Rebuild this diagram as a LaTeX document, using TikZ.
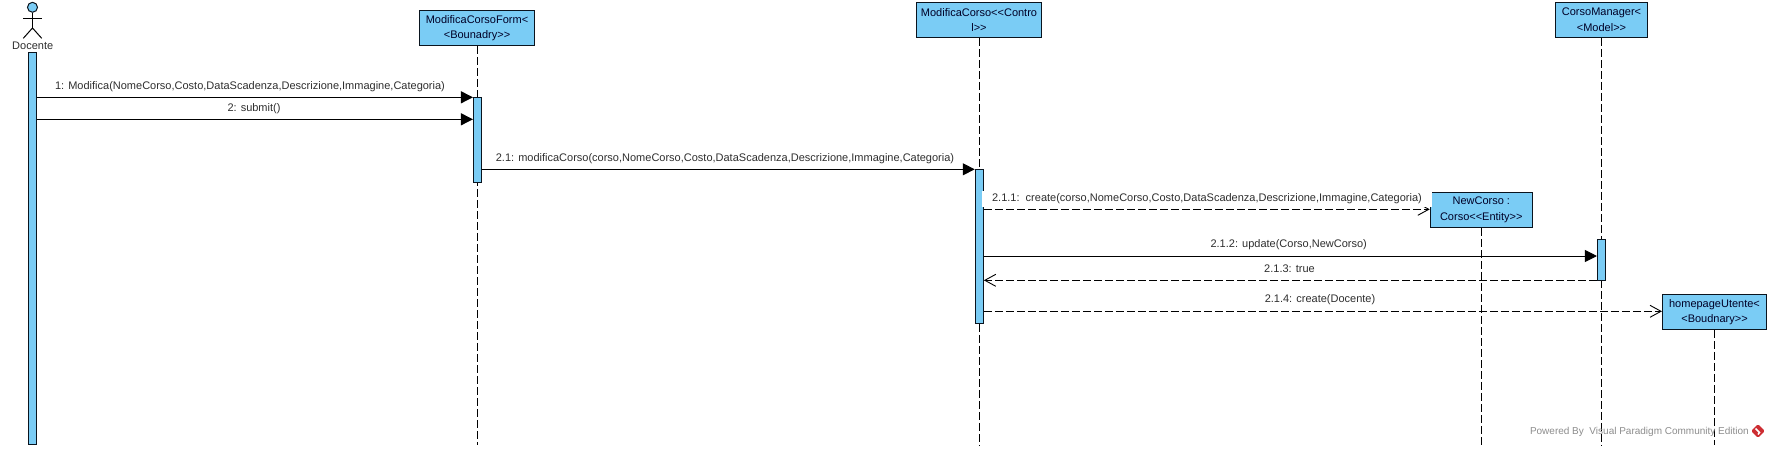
\documentclass[tikz,border=0pt]{standalone}
\usepackage{fontspec}
\setmainfont{Liberation Sans}
\usetikzlibrary{arrows.meta,shapes.geometric}
\definecolor{vpblue}{RGB}{122,204,245}
\definecolor{vpline}{RGB}{10,20,30}
\definecolor{vplogo}{RGB}{205,45,50}
\tikzset{
  x=1pt,y=1pt,
  objbox/.style={draw=vpline,line width=1.1pt,fill=vpblue,inner sep=0pt,align=center,
    font=\fontsize{11}{15.2}\selectfont,text=black!85!blue},
  actbar/.style={draw=vpline,line width=1.1pt,fill=vpblue,inner sep=0pt},
  lifeline/.style={draw=black,line width=1pt,dash pattern=on 8pt off 3pt},
  callmsg/.style={draw=black,line width=1pt,-{Triangle[length=12pt,width=12pt]},shorten >=0pt},
  createmsg/.style={draw=black,line width=1pt,dash pattern=on 8pt off 3pt,-{Straight Barb[length=11pt,width=12pt,line width=0.9pt]}},
  msglabel/.style={inner sep=0pt,font=\fontsize{11}{12}\selectfont,text=black!82},
  actorline/.style={draw=black,line width=1pt},
}
\newcommand{\objnode}[6]{\node[objbox,minimum width=#4pt,minimum height=#5pt] (#1) at (#2,#3) {#6};}
\newcommand{\barnode}[4]{\node[actbar,minimum width=8pt,minimum height=#4pt-#3pt,anchor=north] (#1) at (#2,-#3) {};}
\begin{document}
\begin{tikzpicture}
\useasboundingbox (0,0) rectangle (1771,-448);
% coordinates of message levels
\coordinate (bot) at (0,-445);
\coordinate (y1) at (0,-97.3);
\coordinate (y2) at (0,-119.3);
\coordinate (y3) at (0,-169.3);
\coordinate (y4) at (0,-209.3);
\coordinate (y5) at (0,-256);
\coordinate (y6) at (0,-280.3);
\coordinate (y7) at (0,-311.3);
% objects
\objnode{form}{477}{-27.8}{115}{35}{ModificaCorsoForm<\\<Bounadry>{}>}
\objnode{ctrl}{979}{-19.8}{125}{35}{ModificaCorso<{}<Contro\\l>{}>}
\objnode{mgr}{1601.5}{-19.8}{92}{35}{CorsoManager<\\<Model>{}>}
\objnode{newc}{1481.3}{-209.8}{102}{35}{NewCorso :\\Corso<{}<Entity>{}>}
\objnode{home}{1714.5}{-311.8}{104}{35}{homepageUtente<\\<Boudnary>{}>}
% lifelines
\draw[lifeline] (form.south) -- (form.south |- bot);
\draw[lifeline] (ctrl.south) -- (ctrl.south |- bot);
\draw[lifeline] (mgr.south) -- (mgr.south |- bot);
\draw[lifeline] (newc.south) -- (newc.south |- bot);
\draw[lifeline] (home.south) -- (home.south |- bot);
% actor
\node[circle,draw=vpline,line width=1pt,fill=vpblue,minimum size=10pt,inner sep=0pt] (head) at (32.5,-7.3) {};
\coordinate (hip) at (32.5,-28);
\coordinate (armL) at (23,-18);
\coordinate (armR) at (42,-18);
\coordinate (footL) at (23.3,-38.3);
\coordinate (footR) at (41.7,-38.3);
\draw[actorline] (head.south) -- (hip);
\draw[actorline] (armL) -- (armR);
\draw[actorline] (footL) -- (hip) -- (footR);
\node[msglabel] (doc) at (32.7,-45.5) {Docente};
% messages
\barnode{bd}{32.5}{52.3}{444}
\barnode{bf}{477.5}{97.3}{181.7}
\barnode{bc}{979.3}{169.3}{323.3}
\barnode{bm}{1601.5}{239.3}{280.3}
\draw[callmsg] (bd.east |- y1) -- (bf.west |- y1);
\draw[callmsg] (bd.east |- y2) -- (bf.west |- y2);
\draw[callmsg] (bf.east |- y3) -- (bc.west |- y3);
\draw[createmsg] (bc.east |- y4) -- (newc.west |- y4);
\draw[callmsg] (bc.east |- y5) -- (bm.west |- y5);
\draw[createmsg] (bm.west |- y6) -- (bc.east |- y6);
\draw[createmsg] (bc.east |- y7) -- (home.west |- y7);
% labels
\node[msglabel] (l1) at (250,-87) {1: Modifica(NomeCorso,Costo,DataScadenza,Descrizione,Immagine,Categoria)};
\node[msglabel] (l2) at (254,-108.5) {2: submit()};
\node[msglabel] (l3) at (725,-158.5) {2.1: modificaCorso(corso,NomeCorso,Costo,DataScadenza,Descrizione,Immagine,Categoria)};
\node[msglabel,fill=white,inner xsep=10.5pt,inner ysep=3pt] (l4) at (1207,-199) {2.1.1:\ \ create(corso,NomeCorso,Costo,DataScadenza,Descrizione,Immagine,Categoria)};
\node[msglabel] (l5) at (1288.7,-244.5) {2.1.2: update(Corso,NewCorso)};
\node[msglabel] (l6) at (1289.5,-268.5) {2.1.3: true};
\node[msglabel] (l7) at (1320,-299.5) {2.1.4: create(Docente)};
% watermark
\node[msglabel,font=\fontsize{10}{12}\selectfont,text=black!45,anchor=east] (wm) at (1749,-432) {Powered By\ \ Visual Paradigm Community Edition};
\node[diamond,fill=vplogo,rounded corners=1.5pt,minimum size=14pt,inner sep=0pt] (logo) at (1758,-431) {};
\draw[white,line width=1.5pt] (1755.5,-428.5) -- (1759.5,-432.5) -- (1758,-434.5);
\end{tikzpicture}
\end{document}
